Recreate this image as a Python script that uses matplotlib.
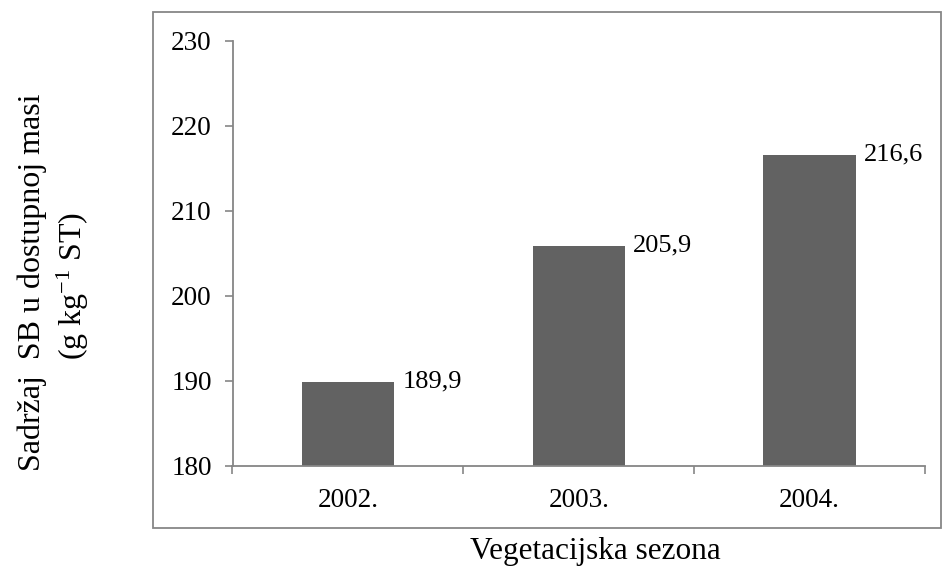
import matplotlib.pyplot as plt
from matplotlib.patches import Rectangle

plt.rcParams['font.family'] = ['Liberation Serif', 'DejaVu Serif']
plt.rcParams['mathtext.fontset'] = 'custom'
plt.rcParams['mathtext.rm'] = 'Liberation Serif'
plt.rcParams['mathtext.default'] = 'regular'

# podaci
seasons = ['2002.', '2003.', '2004.']
values = [189.9, 205.9, 216.6]
value_labels = ['189,9', '205,9', '216,6']
y_ticks = [180, 190, 200, 210, 220, 230]

W, H = 943, 567
fig = plt.figure(figsize=(W / 100, H / 100), dpi=100)

# okvir oko grafikona
fig.patches.append(Rectangle((153 / W, 1 - 528 / H), (941 - 153) / W, (528 - 12) / H,
                             transform=fig.transFigure, fill=False,
                             edgecolor='#878787', linewidth=1.3))

ax = fig.add_axes([232.5 / W, 1 - 465.7 / H, (925 - 232.5) / W, (465.7 - 40.7) / H])
x = list(range(len(seasons)))
bar_w = 0.4
ax.bar(x, values, width=bar_w, bottom=0, color='#626262', edgecolor='none', zorder=2)

for xi, v, lab in zip(x, values, value_labels):
    ax.annotate(lab, xy=(xi + bar_w / 2, v), xytext=(6, -4), textcoords='offset points',
                ha='left', va='baseline', fontsize=19)

ax.set_xlim(-0.5, 2.5)
ax.set_ylim(180, 230)
ax.set_yticks(y_ticks)
ax.set_yticklabels([str(t) for t in y_ticks], fontsize=19.5)

# kategorije: oznake u sredini, crtice na granicama
ax.set_xticks([-0.5, 0.5, 1.5, 2.5])
ax.set_xticklabels([])
ax.set_xticks(x, minor=True)
ax.set_xticklabels(seasons, minor=True, fontsize=19.5)
ax.tick_params(axis='x', which='major', length=6, width=1.2, color='#868686', direction='out')
ax.tick_params(axis='x', which='minor', length=0, pad=16)
ax.tick_params(axis='y', length=6, width=1.2, color='#868686', direction='out', pad=9)

for s in ['top', 'right']:
    ax.spines[s].set_visible(False)
for s in ['left', 'bottom']:
    ax.spines[s].set_color('#868686')
    ax.spines[s].set_linewidth(1.3)

# naslovi osi
fig.text(40 / W, 1 - 282 / H, 'Sadržaj  SB u dostupnoj masi', rotation=90,
         rotation_mode='anchor', ha='center', va='baseline', fontsize=23)
fig.text(82 / W, 1 - 286 / H, r'(g kg$^{-1}$ ST)', rotation=90,
         rotation_mode='anchor', ha='center', va='baseline', fontsize=23)
fig.text(595 / W, 1 - 559 / H, 'Vegetacijska sezona', ha='center', va='baseline', fontsize=22.5)

fig.savefig('out.png', dpi=100)
